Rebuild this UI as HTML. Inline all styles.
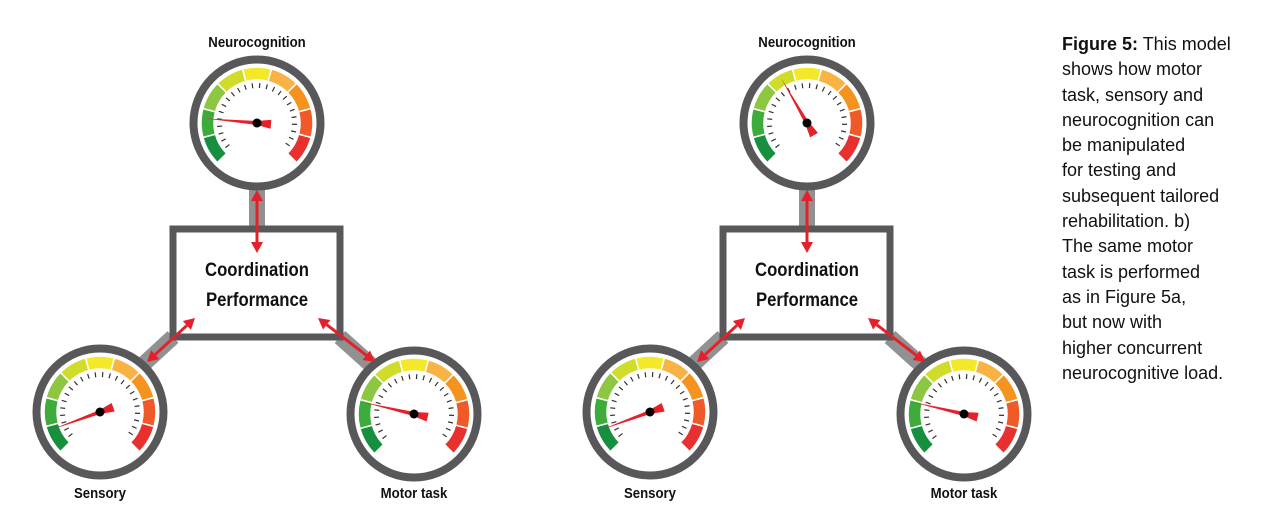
<!DOCTYPE html>
<html><head><meta charset="utf-8"><style>
body{margin:0;background:#fff;width:1264px;height:525px;overflow:hidden;font-family:"Liberation Sans",sans-serif}
.cap{position:absolute;left:1062px;top:32px;font-size:18px;line-height:25.3px;color:#111;font-family:"Liberation Sans",sans-serif}
</style></head><body>
<svg id="s" width="1264" height="525" style="position:absolute;left:0;top:0"></svg>
<div class="cap"><b>Figure 5:</b> This model<br>shows how motor<br>task, sensory and<br>neurocognition can<br>be manipulated<br>for testing and<br>subsequent tailored<br>rehabilitation. b)<br>The same motor<br>task is performed<br>as in Figure 5a,<br>but now with<br>higher concurrent<br>neurocognitive load.</div>
<script>
var s='';
var cols=['#16903f','#3dac3a','#8dc641','#cfdc2a','#f3e92a','#f9b344','#f6921e','#ef5a28','#e8312f'];
function P(cx,cy,r,a){a=a*Math.PI/180;return [cx+r*Math.cos(a),cy-r*Math.sin(a)];}
function gauge(cx,cy,na){
 s+='<circle cx="'+cx+'" cy="'+cy+'" r="63.5" fill="#fff" stroke="#58585a" stroke-width="8"/>';
 for(var i=0;i<9;i++){var a1=225-i*30,a2=a1-30;var ro=56,ri=43;
  var p1=P(cx,cy,ro,a1),p2=P(cx,cy,ro,a2),p3=P(cx,cy,ri,a2),p4=P(cx,cy,ri,a1);
  s+='<path d="M'+p1+' A'+ro+' '+ro+' 0 0 1 '+p2+' L'+p3+' A'+ri+' '+ri+' 0 0 0 '+p4+'Z" fill="'+cols[i]+'" stroke="#fff" stroke-width="1.5"/>';}
 for(var a=218;a>=-38;a-=11){var q1=P(cx,cy,40,a),q2=P(cx,cy,35,a);s+='<line x1="'+q1[0]+'" y1="'+q1[1]+'" x2="'+q2[0]+'" y2="'+q2[1]+'" stroke="#333" stroke-width="1.2"/>';}
 var t=P(cx,cy,52,na),b1=P(cx,cy,2,na+90),b2=P(cx,cy,2,na-90),e=P(cx,cy,14,na+180),e1=P(e[0],e[1],4.5,na+90),e2=P(e[0],e[1],4.5,na-90);
 s+='<polygon points="'+t+' '+b1+' '+e1+' '+e2+' '+b2+'" fill="#e4202a"/>';
 s+='<circle cx="'+cx+'" cy="'+cy+'" r="4.5" fill="#000"/>';
}
function arrow(x1,y1,x2,y2){var dx=x2-x1,dy=y2-y1,L=Math.hypot(dx,dy);dx/=L;dy/=L;var h=11,w=6;
 s+='<line x1="'+(x1+dx*h)+'" y1="'+(y1+dy*h)+'" x2="'+(x2-dx*h)+'" y2="'+(y2-dy*h)+'" stroke="#e4202a" stroke-width="3"/>';
 function head(x,y,ux,uy){s+='<polygon points="'+x+','+y+' '+(x-ux*h-uy*w)+','+(y-uy*h+ux*w)+' '+(x-ux*h+uy*w)+','+(y-uy*h-ux*w)+'" fill="#e4202a"/>';}
 head(x2,y2,dx,dy);head(x1,y1,-dx,-dy);}
function txt(x,y,fs,t){s+='<text transform="translate('+x+','+y+') scale(0.88,1)" text-anchor="middle" font-size="'+fs+'" font-weight="bold" fill="#111">'+t+'</text>';}
function panel(o,n1,n2,n3){
 var nx=257+o,sx=100+o,mx=414+o;
 s+='<line x1="'+nx+'" y1="180" x2="'+nx+'" y2="230" stroke="#919191" stroke-width="16"/>';
 s+='<line x1="'+(173+o)+'" y1="337" x2="'+(sx+35)+'" y2="372" stroke="#919191" stroke-width="16"/>';
 s+='<line x1="'+(340+o)+'" y1="337" x2="'+(mx-35)+'" y2="372" stroke="#919191" stroke-width="16"/>';
 s+='<rect x="'+(173+o)+'" y="229" width="167" height="108" fill="#fff" stroke="#58585a" stroke-width="7"/>';
 gauge(nx,123,n1);gauge(sx,412,n2);gauge(mx,414,n3);
 arrow(nx,190,nx,253);arrow(147,362,195,318);arrow(318,318,375,362);
 txt(nx,276,19,'Coordination');txt(nx,306,19,'Performance');
 txt(nx,47,15,'Neurocognition');txt(sx,498,15,'Sensory');txt(mx,498,15,'Motor task');
}
var _arrow=arrow;
panel(0,175,200,167);
arrow=function(x1,y1,x2,y2){if(x1!==x2){x1+=550;x2+=550;}_arrow(x1,y1,x2,y2);};
panel(550,120,200,167);
document.getElementById('s').innerHTML=s;
</script>
</body></html>
